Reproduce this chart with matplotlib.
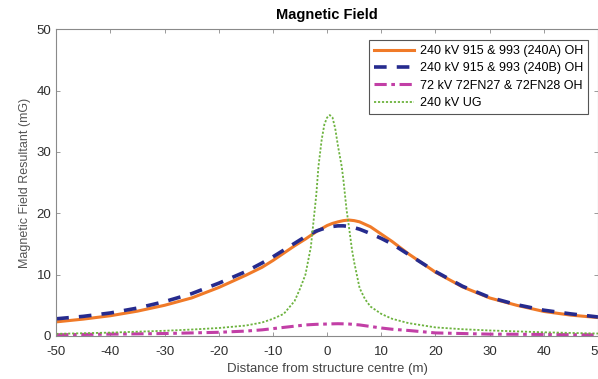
import matplotlib
matplotlib.use("Agg")
import matplotlib.pyplot as plt

plt.rcParams['font.family'] = ['Liberation Sans', 'DejaVu Sans']
plt.rcParams['axes.unicode_minus'] = False

# distance from structure centre (m)
dist = [-50, -45, -40, -35, -30, -25, -20, -15, -12, -10, -8, -6, -4, -2, 0,
        1, 2, 3, 4, 5, 6, 8, 10, 12, 15, 20, 25, 30, 35, 40, 45, 50]
field_240a = [2.3, 2.75, 3.3, 4.05, 5.0, 6.2, 7.9, 9.9, 11.2, 12.3, 13.5, 14.7, 15.8, 17.0, 18.0,
              18.35, 18.6, 18.8, 18.9, 18.8, 18.6, 17.8, 16.6, 15.4, 13.4, 10.4, 8.0, 6.2, 5.0, 4.0, 3.4, 3.0]
field_240b = [2.8, 3.2, 3.75, 4.55, 5.6, 6.9, 8.6, 10.5, 11.9, 12.9, 14.0, 15.1, 16.2, 17.1, 17.7,
              17.85, 17.95, 17.95, 17.85, 17.65, 17.4, 16.7, 15.9, 15.0, 13.3, 10.5, 8.1, 6.3, 5.1, 4.2, 3.6, 3.1]
field_72kv = [0.2, 0.25, 0.3, 0.35, 0.4, 0.5, 0.6, 0.8, 1.0, 1.2, 1.4, 1.6, 1.8, 1.9, 1.95,
              1.98, 2.0, 1.98, 1.95, 1.88, 1.8, 1.55, 1.3, 1.1, 0.9, 0.5, 0.4, 0.3, 0.28, 0.25, 0.22, 0.2]

dist_ug = [-50, -40, -30, -25, -20, -15, -12, -10, -8, -6, -5, -4, -3, -2, -1.6, -1, -0.5, 0, 0.5, 1,
           1.5, 2, 2.7, 3, 3.6, 4, 4.6, 5, 6, 7, 8, 10, 12, 15, 20, 25, 30, 40, 50]
field_ug = [0.35, 0.55, 0.85, 1.05, 1.3, 1.7, 2.2, 2.8, 3.6, 5.7, 7.7, 10.0, 14.5, 23.0, 27.6, 32.0, 34.5, 35.6, 36.0, 35.6,
            33.8, 31.0, 27.6, 25.5, 20.5, 18.0, 14.0, 12.0, 7.8, 6.0, 4.8, 3.6, 2.8, 2.1, 1.4, 1.1, 0.9, 0.6, 0.4]

labels = ['240 kV 915 & 993 (240A) OH', '240 kV 915 & 993 (240B) OH',
          '72 kV 72FN27 & 72FN28 OH', '240 kV UG']

fig = plt.figure(figsize=(5.98, 3.79), dpi=100)
ax = fig.add_axes([0.094, 0.1135, 0.906, 0.8095])

ax.plot(dist, field_240a, color='#F07A28', lw=2.2, label=labels[0])
ax.plot(dist, field_240b, color='#262B8E', lw=2.6, linestyle=(0, (3.5, 2.8)), label=labels[1])
ax.plot(dist, field_72kv, color='#C23FA6', lw=2.2, linestyle=(0, (4, 1.5, 1.2, 1.5)), label=labels[2])
ax.plot(dist_ug, field_ug, color='#6DB33F', lw=1.3, linestyle=(0, (1.2, 1.0)), label=labels[3])

ax.set_xlim(-50, 50)
ax.set_ylim(0, 50)
ax.set_xticks(range(-50, 51, 10))
ax.set_yticks(range(0, 51, 10))
ax.tick_params(direction='in', length=3, width=0.6, colors='#8a8a8a',
               labelcolor='#2e2e2e', labelsize=9.5, top=True, right=True)
ax.tick_params(axis='x', pad=7)
for s in ax.spines.values():
    s.set_color('#8a8a8a')
    s.set_linewidth(0.8)

ax.set_title('Magnetic Field', fontsize=10.5, fontweight='bold', pad=7)
ax.set_xlabel('Distance from structure centre (m)', fontsize=9.5, color='#444444', labelpad=3.5)
ax.set_ylabel('Magnetic Field Resultant (mG)', fontsize=9, color='#555555', labelpad=4)

leg = ax.legend(loc='upper right', bbox_to_anchor=(0.982, 0.964), borderaxespad=0,
                fontsize=9, handlelength=3.2, labelspacing=0.42, fancybox=False,
                framealpha=1, edgecolor='#555555', borderpad=0.4, handletextpad=0.5)
leg.get_frame().set_linewidth(0.8)

fig.savefig('out.png', dpi=100)
